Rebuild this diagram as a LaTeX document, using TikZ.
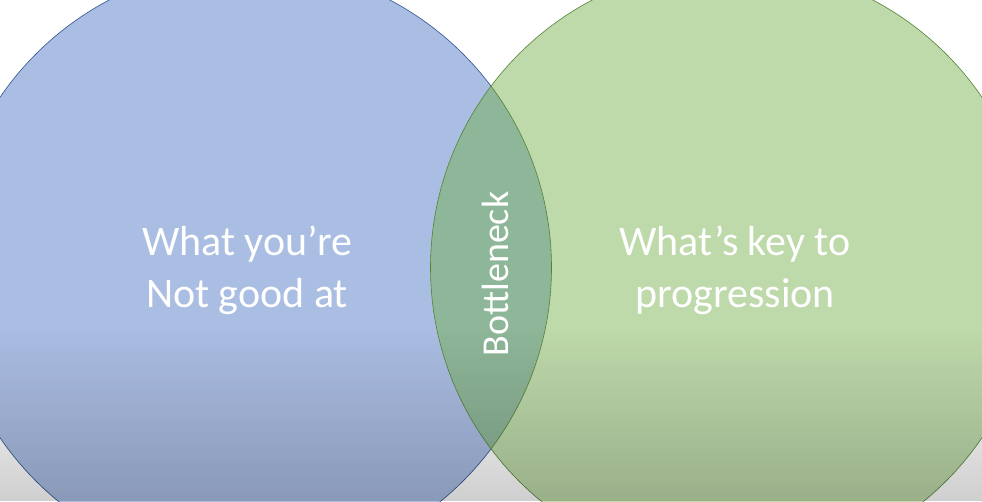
\documentclass[tikz,border=0pt]{standalone}
\usepackage{fontspec}
\setmainfont{Carlito}
\usetikzlibrary{fadings, positioning}
\definecolor{vblue}{HTML}{AABDE3}
\definecolor{vgreen}{HTML}{BED9AA}
\definecolor{vover}{HTML}{8EB698}
\definecolor{edgeblue}{HTML}{2F528F}
\definecolor{edgegreen}{HTML}{548235}
\tikzset{
  % cerchi del diagramma di Venn
  setblue/.style={fill=vblue},
  setgreen/.style={fill=vgreen},
  setover/.style={fill=vover},
  rimblue/.style={draw=edgeblue, line width=0.6pt},
  rimgreen/.style={draw=edgegreen, line width=0.6pt},
  % ombra in basso
  shade bottom/.style={fill=black, fill opacity=0.19, path fading=north},
  % testi
  venntext/.style={text=white, align=center, font=\fontsize{42}{52}\selectfont, inner sep=0pt},
  necktext/.style={text=white, font=\fontsize{38}{44}\selectfont, inner sep=0pt, rotate=90},
}
\begin{document}
\begin{tikzpicture}[x=1pt, y=-1pt]
  \useasboundingbox (0,0) rectangle (982,501);
  \coordinate (cl) at (249.5,267.5);
  \coordinate (cr) at (732.5,267.5);
  \begin{scope}
    \clip (0,0) rectangle (982,501);
    \fill[white] (0,0) rectangle (982,501);
    \path[setblue, rimblue] (cl) circle[radius=302];
    \fill[setgreen] (cr) circle[radius=302];
    \begin{scope}
      \clip (cl) circle[radius=302];
      \fill[setover] (cr) circle[radius=302];
    \end{scope}
    \begin{scope}
      \clip (cr) circle[radius=302];
      \draw[rimgreen] (cl) circle[radius=302];
    \end{scope}
    \draw[rimgreen] (cr) circle[radius=302];
    \path[shade bottom] (0,328) rectangle (982,501);
  \end{scope}
  \node[venntext] (weak) at (247,270) {What you’re\\Not good at};
  \node[venntext] (key) at (735,270) {What’s key to\\progression};
  \node[necktext] (neck) at (495,274) {Bottleneck};
\end{tikzpicture}
\end{document}
